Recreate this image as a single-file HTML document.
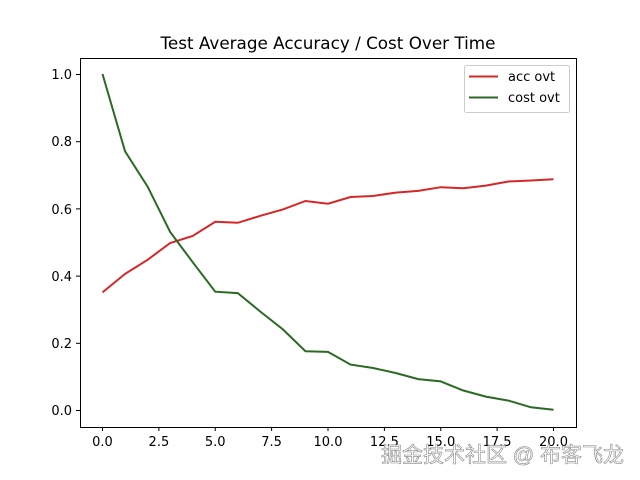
<!DOCTYPE html>
<html><head><meta charset="utf-8"><style>html,body{margin:0;padding:0;background:#fff}svg{display:block}</style></head>
<body>
<svg width="640" height="480" viewBox="0 0 640 480" xmlns="http://www.w3.org/2000/svg" font-family="DejaVu Sans, Liberation Sans, sans-serif">
<rect width="640" height="480" fill="#fff"/>
<text x="328" y="49" font-size="16.8" text-anchor="middle" fill="#000">Test Average Accuracy / Cost Over Time</text>
<rect x="80.5" y="58.5" width="496" height="369" fill="none" stroke="#000" stroke-width="1"/>
<g stroke="#000" stroke-width="1">
<line x1="102.5" y1="427" x2="102.5" y2="431"/><line x1="158.9" y1="427" x2="158.9" y2="431"/><line x1="215.25" y1="427" x2="215.25" y2="431"/><line x1="271.6" y1="427" x2="271.6" y2="431"/><line x1="328" y1="427" x2="328" y2="431"/><line x1="384.4" y1="427" x2="384.4" y2="431"/><line x1="440.75" y1="427" x2="440.75" y2="431"/><line x1="497.1" y1="427" x2="497.1" y2="431"/><line x1="553.5" y1="427" x2="553.5" y2="431"/>
<line x1="76" y1="410.5" x2="80" y2="410.5"/><line x1="76" y1="343.3" x2="80" y2="343.3"/><line x1="76" y1="276.1" x2="80" y2="276.1"/><line x1="76" y1="208.9" x2="80" y2="208.9"/><line x1="76" y1="141.7" x2="80" y2="141.7"/><line x1="76" y1="74.5" x2="80" y2="74.5"/>
</g>
<g font-size="13" fill="#000" text-anchor="middle">
<text x="102.5" y="446">0.0</text><text x="158.9" y="446">2.5</text><text x="215.25" y="446">5.0</text><text x="271.6" y="446">7.5</text><text x="328" y="446">10.0</text><text x="384.4" y="446">12.5</text><text x="440.75" y="446">15.0</text><text x="497.1" y="446">17.5</text><text x="553.5" y="446">20.0</text>
</g>
<g font-size="13" fill="#000" text-anchor="end">
<text x="72" y="415">0.0</text><text x="72" y="348">0.2</text><text x="72" y="281">0.4</text><text x="72" y="214">0.6</text><text x="72" y="146">0.8</text><text x="72" y="79">1.0</text>
</g>
<polyline fill="none" stroke="#d62728" stroke-width="2" points="102.5,292.4 125.05,273.9 147.6,259.8 170.15,243 192.7,236 215.25,221.8 237.8,222.8 260.35,215.8 282.9,209.4 305.45,201 328,203.7 350.55,197 373.1,196 395.65,192.6 418.2,190.9 440.75,187.2 463.3,188.2 485.85,185.6 508.4,181.5 530.95,180.5 553.5,179.2"/>
<polyline fill="none" stroke="#2a6a22" stroke-width="2" points="102.5,74 125.05,151.3 147.6,186.6 170.15,232 192.7,262.2 215.25,291.7 237.8,293.1 260.35,311.6 282.9,329.4 305.45,351.2 328,351.9 350.55,364.6 373.1,368 395.65,373 418.2,379.1 440.75,381.4 463.3,390.5 485.85,396.6 508.4,400.6 530.95,407.3 553.5,409.7"/>
<rect x="464.5" y="65.5" width="105" height="47" rx="2" fill="#fff" stroke="#ccc"/>
<line x1="469" y1="76.5" x2="498" y2="76.5" stroke="#d62728" stroke-width="2"/>
<line x1="469" y1="97.5" x2="498" y2="97.5" stroke="#2a6a22" stroke-width="2"/>
<text x="508" y="81" font-size="13">acc ovt</text>
<text x="508" y="102" font-size="13">cost ovt</text>
<text x="624" y="462" font-size="21" text-anchor="end" fill="#fff" stroke="#888" stroke-width="0.6" font-family="Liberation Sans, Noto Sans CJK SC, sans-serif">掘金技术社区 @ 布客飞龙</text>
</svg>
</body></html>
